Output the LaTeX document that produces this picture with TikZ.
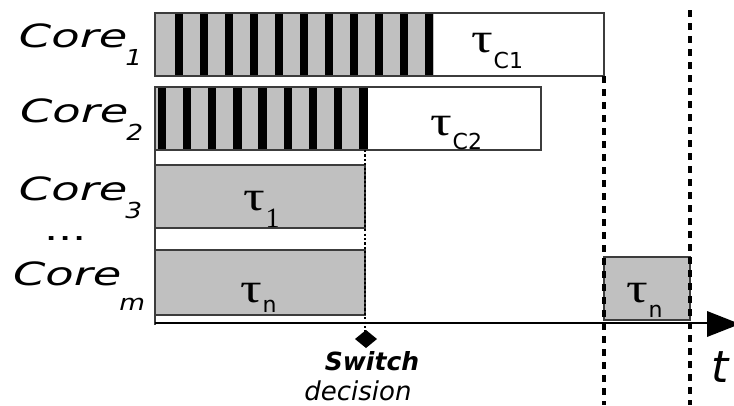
\documentclass[tikz,border=0pt]{standalone}
\usepackage{fontspec}
\setmainfont{DejaVu Sans}
\newfontfamily\taufont{Liberation Serif}
\newfontfamily\dvs{DejaVu Sans}
\definecolor{tgray}{RGB}{192,192,192}
\definecolor{edge}{RGB}{60,60,60}
\newcommand\corelab[3]{\scalebox{1.45}[1]{\fontsize{32}{32}\selectfont\itshape Core}\hspace{-2pt}\raisebox{#2}{\scalebox{1.2}[1]{\fontsize{#3}{#3}\selectfont\itshape #1}}}
\newcommand\tlab[3]{{\taufont\fontsize{40}{40}\selectfont\scalebox{1.35}[1.05]{τ}}\hspace{1pt}\raisebox{#2}{#3{#1}}}
\newcommand\subsans{\dvs\fontsize{22}{22}\selectfont}
\newcommand\subserif{\taufont\fontsize{28}{28}\selectfont}
\begin{document}
\begin{tikzpicture}[x=1pt,y=-1pt,
  boxline/.style={draw=edge, line width=1.4pt},
  taskfill/.style={fill=tgray},
  guide/.style={line width=3.2pt, dash pattern=on 7pt off 6pt},
  switchline/.style={line width=1.8pt, dash pattern=on 2.2pt off 2.2pt},
  lbl/.style={inner sep=0pt, outer sep=0pt},
]
\useasboundingbox (0,0) rectangle (734,405);
% Core 1
\fill[tgray] (155,13) rectangle (434,76);
\foreach \i in {0,...,10} \fill (175+25*\i,13) rectangle +(8,63);
\draw[boxline] (155,13) rectangle (604,76);
% Core 2
\fill[tgray] (155,87) rectangle (367,150);
\foreach \i in {0,...,8} \fill (157.5+25.2*\i,87) rectangle +(8.5,63);
\draw[boxline] (155,87) rectangle (541,150);
% Core 3
\draw[boxline, taskfill] (155,165) rectangle (365,228);
% Core m
\draw[boxline, taskfill] (155,250) rectangle (365,315);
% right tau_n
\draw[boxline, taskfill] (604,257) rectangle (690,320);
% axes
\coordinate (o) at (155,323);
\coordinate (ytop) at (155,87);
\coordinate (xend) at (710,323);
\draw[line width=1.5pt, edge] (ytop) -- (155,325);
\draw[line width=1.6pt] (o) -- (xend);
\fill (707,311) -- (740,324) -- (707,337) -- cycle;
% switch decision
\coordinate (sw0) at (365,150);
\coordinate (sw1) at (365,333);
\draw[switchline] (sw0) -- (sw1);
\fill (366,330) -- (377,339) -- (366,348) -- (355,339) -- cycle;
% guides
\coordinate (g1a) at (604,76);
\coordinate (g1b) at (604,405);
\coordinate (g2a) at (690,10);
\coordinate (g2b) at (690,405);
\draw[guide] (g1a) -- (g1b);
\draw[guide] (g2a) -- (g2b);
% core labels
\node[lbl, anchor=base west] (l1) at (19,47) {\corelab{1}{-18pt}{22}};
\node[lbl, anchor=base west] (l2) at (20,122) {\corelab{2}{-18pt}{22}};
\node[lbl, anchor=base west] (l3) at (19,200) {\corelab{3}{-18pt}{22}};
\node[lbl, anchor=base west] (dots) at (44,240) {\fontsize{32}{32}\selectfont\scalebox{1.4}[1]{...}};
\node[lbl, anchor=base west] (lm) at (13,285) {\corelab{m}{-25pt}{22}};
% task labels
\node[lbl, anchor=base west] (tc1) at (471,52) {\tlab{C1}{-16pt}{\subsans}};
\node[lbl, anchor=base west] (tc2) at (430,135) {\tlab{C2}{-14pt}{\subsans}};
\node[lbl, anchor=base west] (t1) at (243,210) {\tlab{1}{-17pt}{\subserif}};
\node[lbl, anchor=base west] (tn1) at (240,302) {\tlab{n}{-10pt}{\subsans}};
\node[lbl, anchor=base west] (tn2) at (626,302) {\tlab{n}{-15pt}{\subsans}};
% bottom labels
\node[lbl, anchor=base] (sw) at (372,370) {\fontsize{25}{25}\selectfont\bfseries\itshape Switch};
\node[lbl, anchor=base] (dec) at (358,400) {\fontsize{26}{26}\selectfont\itshape decision};
\node[lbl, anchor=base west] (t) at (711,382) {\fontsize{44}{44}\selectfont\itshape t};
\end{tikzpicture}
\end{document}
